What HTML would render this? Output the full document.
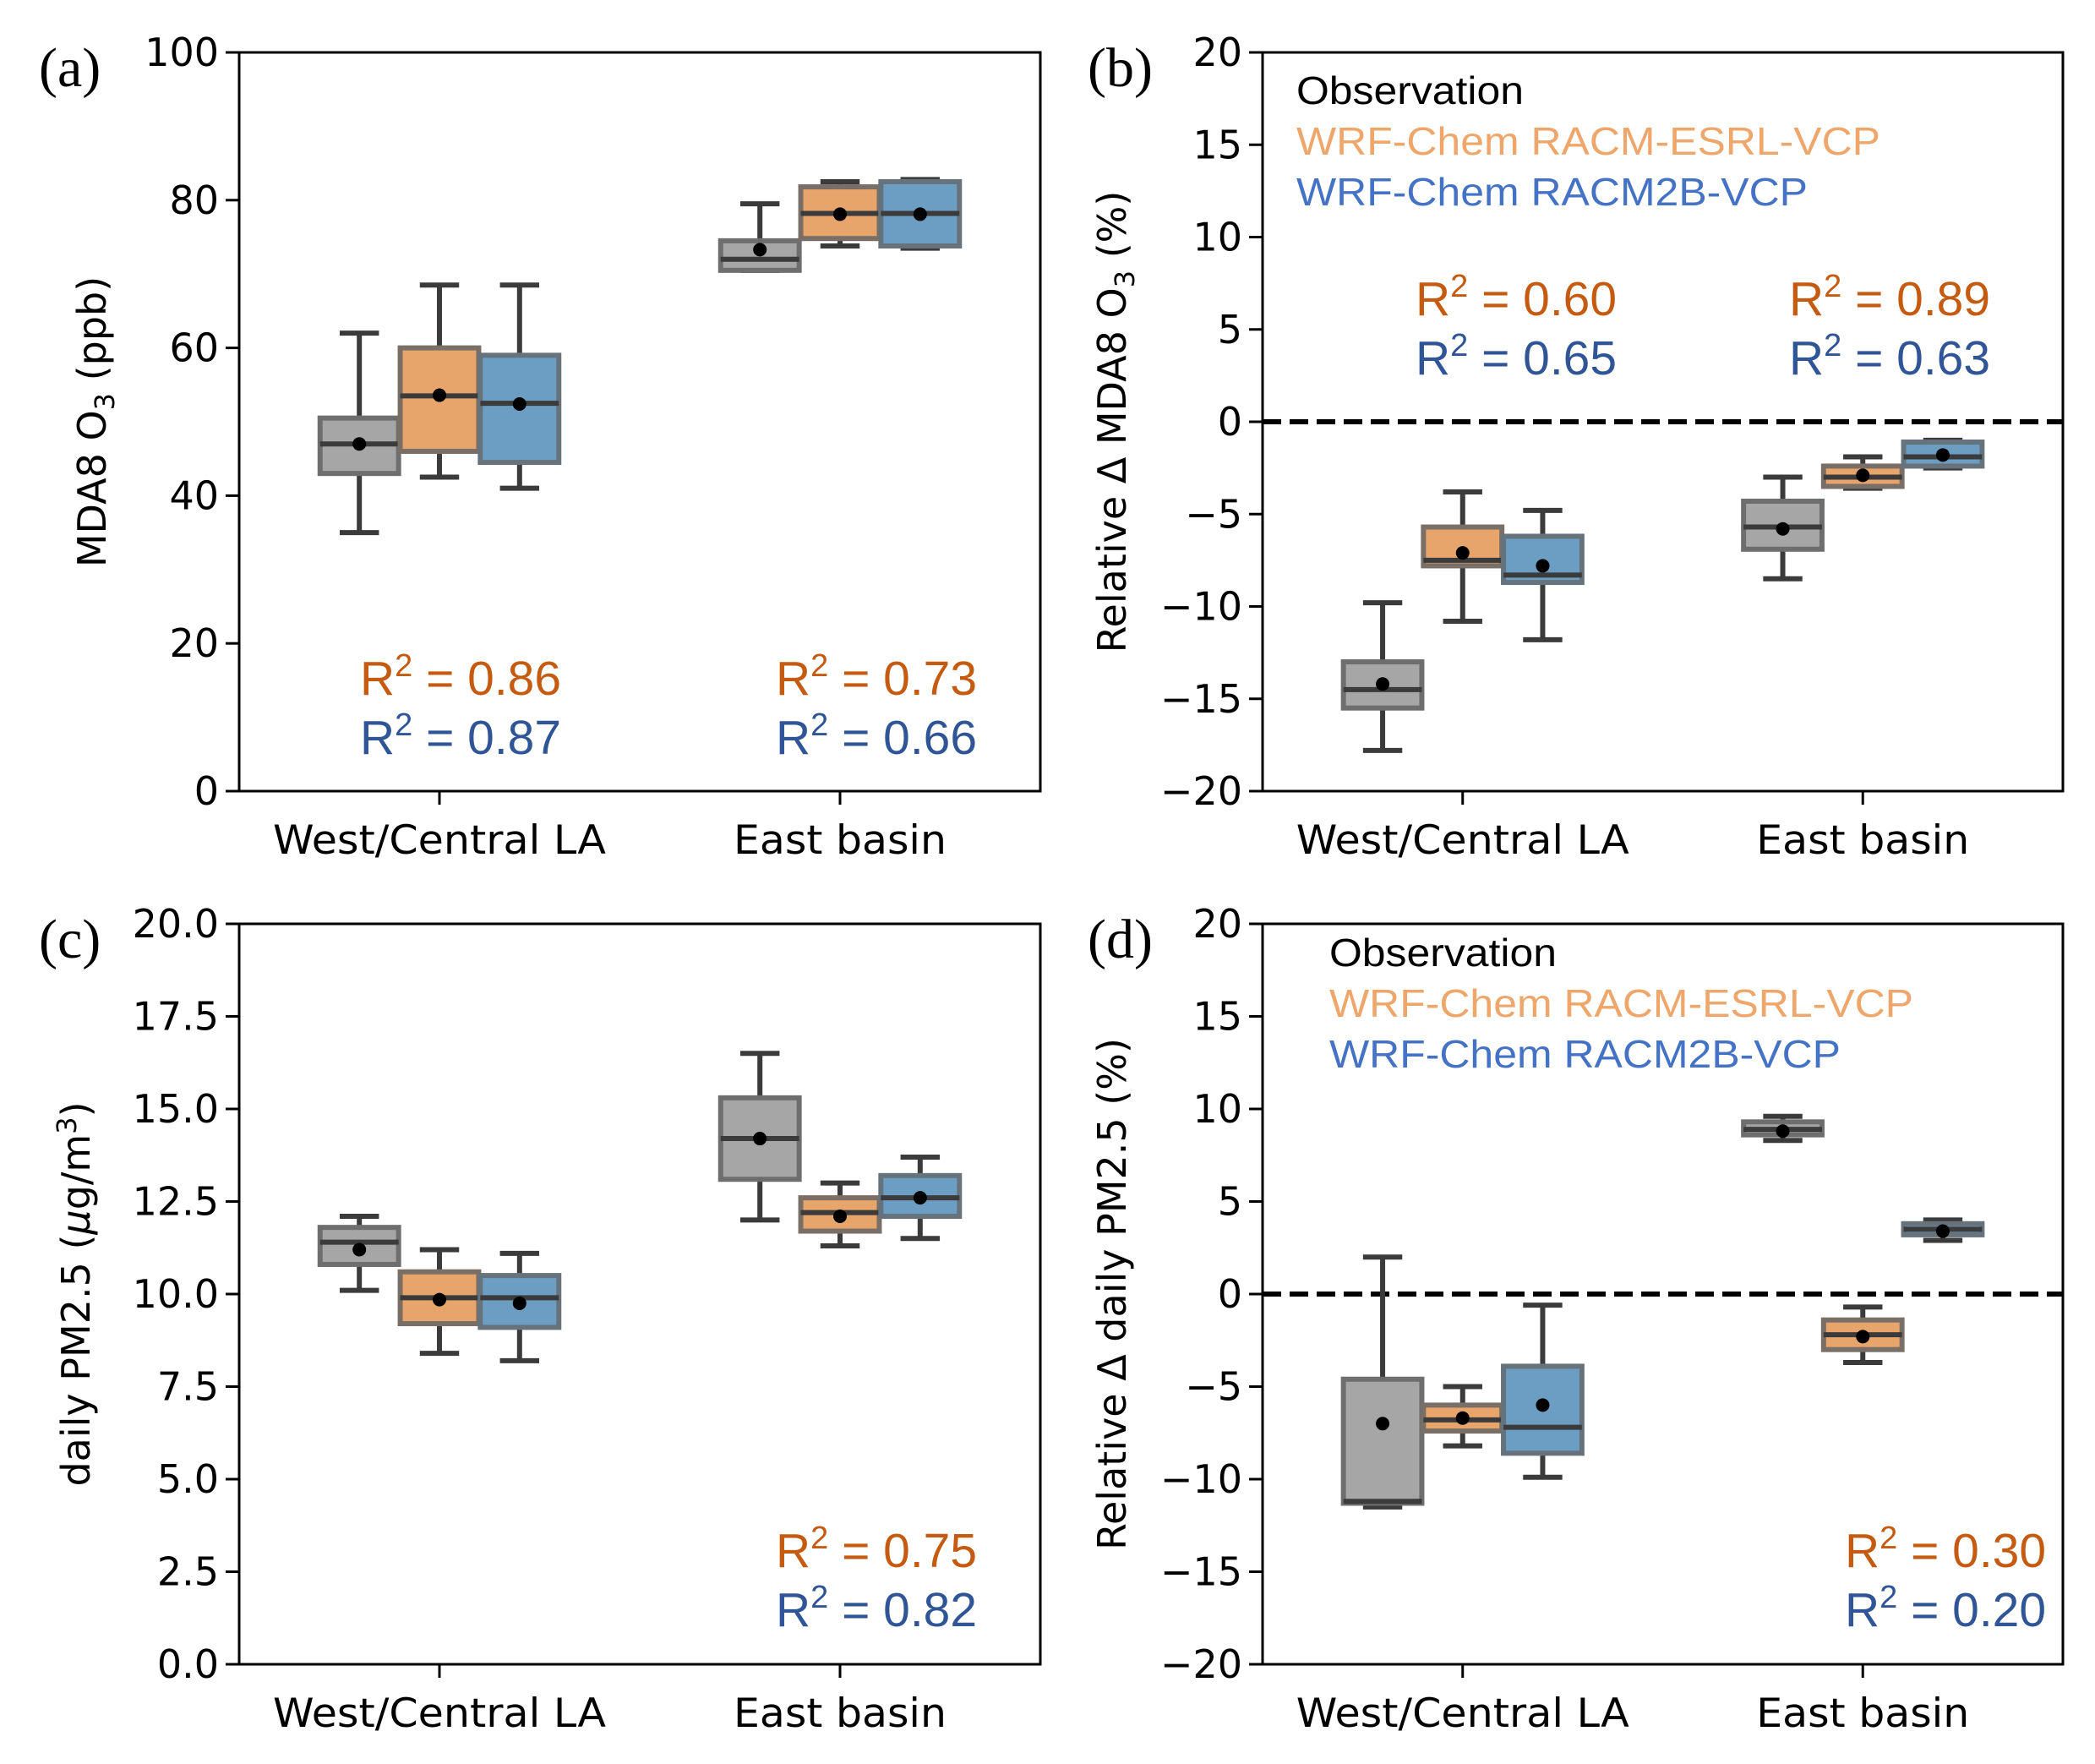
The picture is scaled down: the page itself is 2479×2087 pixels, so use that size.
<!DOCTYPE html>
<html><head><meta charset="utf-8">
<style>
html,body{margin:0;padding:0;background:#fff;}
svg{display:block;}
</style></head>
<body>
<svg id="fig" xmlns="http://www.w3.org/2000/svg" width="2479" height="2087" viewBox="0 0 2479 2087"></svg>
<script>
// ---------- data ----------
const categories = ["West/Central LA", "East basin"];
const seriesNames = ["Observation", "WRF-Chem RACM-ESRL-VCP", "WRF-Chem RACM2B-VCP"];
// each stat: [whislo, q1, median, q3, whishi, mean]
const panelA_obs = [[35,43,47,50.5,62,47],[70.5,70.5,72,74.5,79.5,73.3]];
const panelA_orange = [[42.5,46,53.5,60,68.5,53.6],[73.8,74.8,78.2,81.8,82.5,78.1]];
const panelA_blue = [[41,44.5,52.5,59,68.5,52.4],[73.5,73.8,78.2,82.5,82.8,78.1]];
const panelB_obs = [[-17.8,-15.5,-14.5,-13,-9.8,-14.2],[-8.5,-6.9,-5.7,-4.3,-3,-5.8]];
const panelB_orange = [[-10.8,-7.8,-7.5,-5.7,-3.8,-7.1],[-3.6,-3.5,-3.0,-2.4,-1.9,-2.9]];
const panelB_blue = [[-11.8,-8.7,-8.3,-6.2,-4.8,-7.8],[-2.5,-2.4,-1.9,-1.1,-1.0,-1.8]];
const panelC_obs = [[10.1,10.8,11.4,11.8,12.1,11.2],[12.0,13.1,14.2,15.3,16.5,14.2]];
const panelC_orange = [[8.4,9.2,9.9,10.6,11.2,9.85],[11.3,11.7,12.2,12.6,13.0,12.1]];
const panelC_blue = [[8.2,9.1,9.9,10.5,11.1,9.75],[11.5,12.1,12.6,13.2,13.7,12.6]];
const panelD_obs = [[-11.5,-11.3,-11.2,-4.6,2.0,-7.0],[8.3,8.6,8.9,9.3,9.6,8.8]];
const panelD_orange = [[-8.2,-7.4,-6.8,-6.0,-5.0,-6.7],[-3.7,-3.0,-2.2,-1.4,-0.7,-2.3]];
const panelD_blue = [[-9.9,-8.6,-7.2,-3.9,-0.6,-6.0],[2.9,3.2,3.5,3.8,4.0,3.4]];
const ticksA = [0,20,40,60,80,100];
const ticksB = [-20,-15,-10,-5,0,5,10,15,20];
const ticksC = [0,2.5,5,7.5,10,12.5,15,17.5,20];
const tickLabelsA = ["0","20","40","60","80","100"];
const tickLabelsB = ["\u221220","\u221215","\u221210","\u22125","0","5","10","15","20"];
const tickLabelsC = ["0.0","2.5","5.0","7.5","10.0","12.5","15.0","17.5","20.0"];
const r2A = [["0.86","0.87"],["0.73","0.66"]];
const r2B = [["0.60","0.65"],["0.89","0.63"]];
const r2C = [["0.75","0.82"]];
const r2D = [["0.30","0.20"]];

// ---------- drawing ----------
const NS = "http://www.w3.org/2000/svg";
const svg = document.getElementById("fig");
function mk(tag, attrs, parent, text){
  const e = document.createElementNS(NS, tag);
  for (const k in attrs) e.setAttribute(k, attrs[k]);
  if (text !== undefined) e.textContent = text;
  (parent||svg).appendChild(e);
  return e;
}
const fills = ["#a6a6a6","#e8a56b","#6c9ec4"];
const edges = ["#6e6e6e","#7a6f66","#66737d"];
const DARK = "#3b3b3b";
const TICKFONT = '"DejaVu Sans", "Liberation Sans", sans-serif';
const ARIAL = '"Liberation Sans", Arial, sans-serif';

function panel(cfg){
  const g = mk("g", {});
  
  
  const L=cfg.L, R=cfg.R, T=cfg.T, B=cfg.B;
  const xs = c => L + (c + 0.5) / 2 * (R - L);
  const ys = v => B - (v - cfg.ymin) / (cfg.ymax - cfg.ymin) * (B - T);
  cfg.ticks.forEach((t,i)=>{
    const y = ys(t);
    const tk = mk("line",{x1:L-16,x2:L,y1:y,y2:y,stroke:"#000","stroke-width":3},g);
    
    
    const tl = mk("text",{x:L-24,y:y+16,"text-anchor":"end","font-family":TICKFONT,"font-size":46,fill:"#000"},g,cfg.tickLabels[i]);
    
    
  });
  categories.forEach((c,i)=>{
    const x = xs(i);
    const tk = mk("line",{x1:x,x2:x,y1:B,y2:B+16,stroke:"#000","stroke-width":3},g);
    
    
    const tl = mk("text",{x:x,y:B+74,"text-anchor":"middle","font-family":TICKFONT,"font-size":47,fill:"#000",textLength:(i===0?394:252),lengthAdjust:"spacingAndGlyphs"},g,c);
    
    
  });
  if (cfg.zero){
    const zl = mk("line",{x1:L,x2:R,y1:ys(0),y2:ys(0),stroke:"#000","stroke-width":6,"stroke-dasharray":"22,10"},g);
    
    
  }
  const bw = 0.2 * (R - L) / 2 * 0.98;
  cfg.series.forEach((ser,si)=>{
    ser.forEach((s,ci)=>{
      const cx = xs(ci + (si-1)*0.2);
      const bg = mk("g",{},g);
      
      
      const [lo,q1,med,q3,hi,mean] = s;
      mk("line",{x1:cx,x2:cx,y1:ys(hi),y2:ys(q3),stroke:DARK,"stroke-width":6},bg);
      mk("line",{x1:cx,x2:cx,y1:ys(q1),y2:ys(lo),stroke:DARK,"stroke-width":6},bg);
      mk("line",{x1:cx-bw/4,x2:cx+bw/4,y1:ys(hi),y2:ys(hi),stroke:DARK,"stroke-width":6},bg);
      mk("line",{x1:cx-bw/4,x2:cx+bw/4,y1:ys(lo),y2:ys(lo),stroke:DARK,"stroke-width":6},bg);
      mk("rect",{x:cx-bw/2,y:ys(q3),width:bw,height:Math.max(ys(q1)-ys(q3),1),fill:fills[si],stroke:edges[si],"stroke-width":6},bg);
      mk("line",{x1:cx-bw/2,x2:cx+bw/2,y1:ys(med),y2:ys(med),stroke:DARK,"stroke-width":6},bg);
      mk("circle",{cx:cx,cy:ys(mean),r:8,fill:"#000"},bg);
    });
  });
  const fr = mk("rect",{x:L,y:T,width:R-L,height:B-T,fill:"none",stroke:"#000","stroke-width":3},g);
  
  
  const yl = mk("text",{transform:`translate(${cfg.ylx},${(T+B)/2}) rotate(-90)`,"text-anchor":"middle","font-family":TICKFONT,"font-size":46,fill:"#000"},g);
  
  
  yl.innerHTML = cfg.ylabel;
  const pl = mk("text",{x:cfg.plx,y:T+40,"font-family":'"Liberation Serif", serif',"font-size":66,fill:"#000"},g,cfg.letter);
  
  
  cfg.r2.forEach((pair,i)=>{
    const px = cfg.r2x[i];
    const cols = ["#c55a11","#2f5597"];
    pair.forEach((v,j)=>{
      const t = mk("text",{x:px,y:cfg.r2y+j*70,"font-family":ARIAL,"font-size":57,fill:cols[j],textLength:238,lengthAdjust:"spacingAndGlyphs"},g);
      
      
      t.innerHTML = 'R<tspan dy="-22" font-size="38">2</tspan><tspan dy="22"> = '+v+'</tspan>';
    });
  });
  if (cfg.legend){
    const lg = mk("g",{},g);
    
    
    const lc = ["#000","#eea66b","#4472c4"];
    const lw = [269,691,605];
    seriesNames.forEach((n,i)=>{
      const t = mk("text",{x:cfg.legend[0],y:cfg.legend[1]+i*60,"font-family":ARIAL,"font-size":46,fill:lc[i],textLength:lw[i],lengthAdjust:"spacingAndGlyphs"},lg,n);
      
      
    });
  }
}
const L1=283,R1=1231,L2=1494,R2=2441,T1=62,B1=936,T2=1093,B2=1969;
panel({name:"panel-a",letter:"(a)",L:L1,R:R1,T:T1,B:B1,ymin:0,ymax:100,ticks:ticksA,tickLabels:tickLabelsA,
  series:[panelA_obs,panelA_orange,panelA_blue],ylx:125,plx:46,
  ylabel:'MDA8 O<tspan font-size="32" dy="10">3</tspan><tspan dy="-10"> (ppb)</tspan>',
  r2:r2A,r2x:[426,918],r2y:822});
panel({name:"panel-b",letter:"(b)",L:L2,R:R2,T:T1,B:B1,ymin:-20,ymax:20,ticks:ticksB,tickLabels:tickLabelsB,zero:true,
  series:[panelB_obs,panelB_orange,panelB_blue],ylx:1332,plx:1287,
  ylabel:'Relative \u0394 MDA8 O<tspan font-size="32" dy="10">3</tspan><tspan dy="-10"> (%)</tspan>',
  r2:r2B,r2x:[1675,2117],r2y:373,legend:[1534,123]});
panel({name:"panel-c",letter:"(c)",L:L1,R:R1,T:T2,B:B2,ymin:0,ymax:20,ticks:ticksC,tickLabels:tickLabelsC,
  series:[panelC_obs,panelC_orange,panelC_blue],ylx:106,plx:46,
  ylabel:'daily PM2.5 (<tspan font-style="italic">\u03bc</tspan>g/m<tspan font-size="32" dy="-16">3</tspan><tspan dy="16">)</tspan>',
  r2:r2C,r2x:[918],r2y:1854});
panel({name:"panel-d",letter:"(d)",L:L2,R:R2,T:T2,B:B2,ymin:-20,ymax:20,ticks:ticksB,tickLabels:tickLabelsB,zero:true,
  series:[panelD_obs,panelD_orange,panelD_blue],ylx:1332,plx:1287,
  ylabel:'Relative \u0394 daily PM2.5 (%)',
  r2:r2D,r2x:[2183],r2y:1854,legend:[1573,1143]});
</script>
</body></html>
